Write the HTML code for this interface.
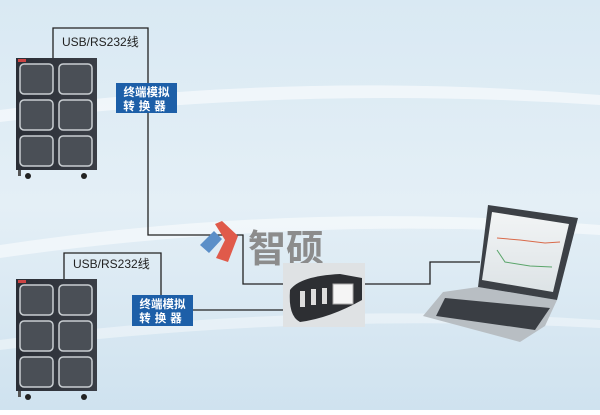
<!DOCTYPE html>
<html><head><meta charset="utf-8"><style>
body{margin:0;width:600px;height:410px;overflow:hidden;font-family:"Liberation Sans","Noto Sans CJK SC",sans-serif}
</style></head><body>
<svg width="600" height="410" viewBox="0 0 600 410" xmlns="http://www.w3.org/2000/svg">
<defs>
<linearGradient id="bg" x1="0" y1="0" x2="0" y2="1">
<stop offset="0" stop-color="#d9e9f3"/><stop offset="0.5" stop-color="#e4eff6"/><stop offset="1" stop-color="#cfe2ef"/>
</linearGradient>
<linearGradient id="cab" x1="0" y1="0" x2="1" y2="0">
<stop offset="0" stop-color="#2a2e36"/><stop offset="1" stop-color="#3a3e46"/>
</linearGradient>
<linearGradient id="scr" x1="0" y1="0" x2="0" y2="1">
<stop offset="0" stop-color="#f2f4f5"/><stop offset="1" stop-color="#dde3e6"/>
</linearGradient>
<g id="cabinet">
<rect x="0" y="0" width="81" height="112" fill="url(#cab)"/>
<g fill="#4a4f56" stroke="#c9ced2" stroke-width="1.5">
<rect x="4" y="6" width="33" height="30" rx="4"/><rect x="43" y="6" width="33" height="30" rx="4"/>
<rect x="4" y="42" width="33" height="30" rx="4"/><rect x="43" y="42" width="33" height="30" rx="4"/>
<rect x="4" y="78" width="33" height="30" rx="4"/><rect x="43" y="78" width="33" height="30" rx="4"/>
</g>
<rect x="2" y="1" width="8" height="3" fill="#c44"/>
<circle cx="12" cy="118" r="3" fill="#222"/><circle cx="68" cy="118" r="3" fill="#222"/>
<rect x="2" y="112" width="3" height="6" fill="#555"/>
</g>
</defs>
<rect width="600" height="410" fill="url(#bg)"/>
<path d="M0 110 Q300 70 600 95 L600 105 Q300 85 0 122Z" fill="#fff" opacity="0.55"/>
<path d="M0 245 Q300 200 600 225 L600 235 Q300 215 0 258Z" fill="#fff" opacity="0.5"/>
<path d="M0 340 Q300 300 600 320 L600 328 Q300 312 0 350Z" fill="#fff" opacity="0.4"/>

<g fill="none" stroke="#222" stroke-width="1.3">
<polyline points="53,58 53,28 148,28 148,235 243,235 243,284 285,284"/>
<polyline points="64,280 64,253 161,253 161,310 285,310"/>
<polyline points="365,284 430,284 430,262 480,262"/>
</g>

<use href="#cabinet" x="16" y="58"/>
<use href="#cabinet" x="16" y="279"/>

<text x="62" y="46" font-size="12" fill="#222">USB/RS232线</text>
<text x="73" y="268" font-size="12" fill="#222">USB/RS232线</text>

<rect x="116" y="83" width="61" height="30" fill="#1d5fa8"/>
<text x="146.5" y="96" font-size="11.5" fill="#fff" text-anchor="middle" font-weight="bold">终端模拟</text>
<text x="146.5" y="110" font-size="11.5" fill="#fff" text-anchor="middle" font-weight="bold" letter-spacing="4">转换器</text>
<rect x="132" y="295" width="61" height="31" fill="#1d5fa8"/>
<text x="162.5" y="308" font-size="11.5" fill="#fff" text-anchor="middle" font-weight="bold">终端模拟</text>
<text x="162.5" y="322" font-size="11.5" fill="#fff" text-anchor="middle" font-weight="bold" letter-spacing="4">转换器</text>

<!-- logo -->
<path d="M200 245 L214 231 L222 239 L209 253Z" fill="#5b8fc8"/>
<path d="M215 224 L222 221 L238 236 L228 262 L216 258 L225 240Z" fill="#e05a4a"/>
<text x="248" y="262" font-size="38" fill="#8c8c8c" font-weight="bold">智硕</text>

<!-- hub -->
<rect x="283" y="263" width="82" height="64" fill="#dfe2e4"/>
<path d="M290 290 Q300 276 340 274 L362 278 L362 300 Q330 318 300 322 Q288 316 290 290Z" fill="#2d2f33"/>
<rect x="300" y="291" width="5" height="16" fill="#ddd"/><rect x="311" y="289" width="5" height="16" fill="#ddd"/><rect x="322" y="288" width="5" height="16" fill="#ddd"/>
<rect x="333" y="284" width="20" height="20" fill="#f5f5f5" stroke="#aaa"/>

<!-- laptop -->
<polygon points="478,287 557,300 545,326 520,342 423,316 443,292" fill="#b8bec3"/>
<polygon points="445,298 550,308 535,330 436,316" fill="#3a3e44"/>
<polygon points="488,205 578,218 557,300 478,287" fill="#3c4046"/>
<polygon points="492,212 569,224 553,292 482,280" fill="url(#scr)"/>
<polyline points="497,238 520,240 545,243 560,242" fill="none" stroke="#d96a4a" stroke-width="1"/>
<polyline points="497,250 505,262 530,266 552,267" fill="none" stroke="#5aa56a" stroke-width="1"/>
</svg>
</body></html>
